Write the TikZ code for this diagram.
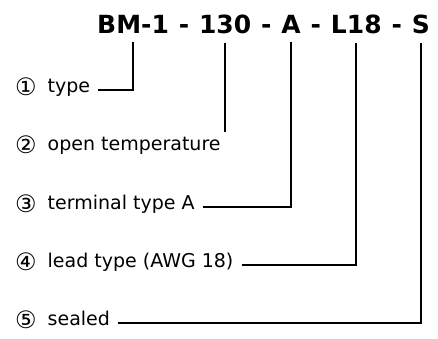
\documentclass[tikz,border=0pt]{standalone}
\usepackage{fontspec}
\setmainfont{DejaVu Sans}
\usetikzlibrary{positioning}
\newcommand{\cnum}[1]{\raisebox{-2.5pt}{\fontsize{24}{24}\selectfont #1}\hspace{11pt}}

\begin{document}
\begin{tikzpicture}[x=1pt,y=-1pt,
  code/.style={font=\bfseries\fontsize{25}{30}\selectfont, inner xsep=0pt, inner ysep=9pt},
  lbl/.style={font=\fontsize{19}{23}\selectfont, inner sep=0pt, anchor=mid west},
  wire/.style={line width=2pt}]
\useasboundingbox (0,0) rectangle (438,338);
% part number
\node[code, anchor=base west] (bm) at (97,33) {BM-1};
\node[code, base right=9.5pt of bm] (h1) {-};
\node[code, base right=9.5pt of h1] (temp) {130};
\node[code, base right=9.5pt of temp] (h2) {-};
\node[code, base right=9.5pt of h2] (term) {A};
\node[code, base right=9.5pt of term] (h3) {-};
\node[code, base right=9.5pt of h3] (awg) {L18};
\node[code, base right=9.5pt of awg] (h4) {-};
\node[code, base right=9.5pt of h4] (seal) {S};
% labels
\node[lbl] (ltype) at (15,90) {\cnum{①}type};
\node[lbl] (lopen) at (15,148) {\cnum{②}open temperature};
\node[lbl] (lterm) at (15,207) {\cnum{③}terminal type A};
\node[lbl] (lawg) at (15,265) {\cnum{④}lead type (AWG 18)};
\node[lbl] (lseal) at (15,323) {\cnum{⑤}sealed};
\coordinate (openend) at ([yshift=-89pt]temp.south);
\draw[wire] ([xshift=8pt]ltype.mid east) -| (bm.south);
\draw[wire] (temp.south) -- (openend);
\draw[wire] ([xshift=8pt]lterm.mid east) -| (term.south);
\draw[wire] ([xshift=8pt]lawg.mid east) -| (awg.south);
\draw[wire] ([xshift=8pt]lseal.mid east) -| (seal.south);
\end{tikzpicture}
\end{document}
